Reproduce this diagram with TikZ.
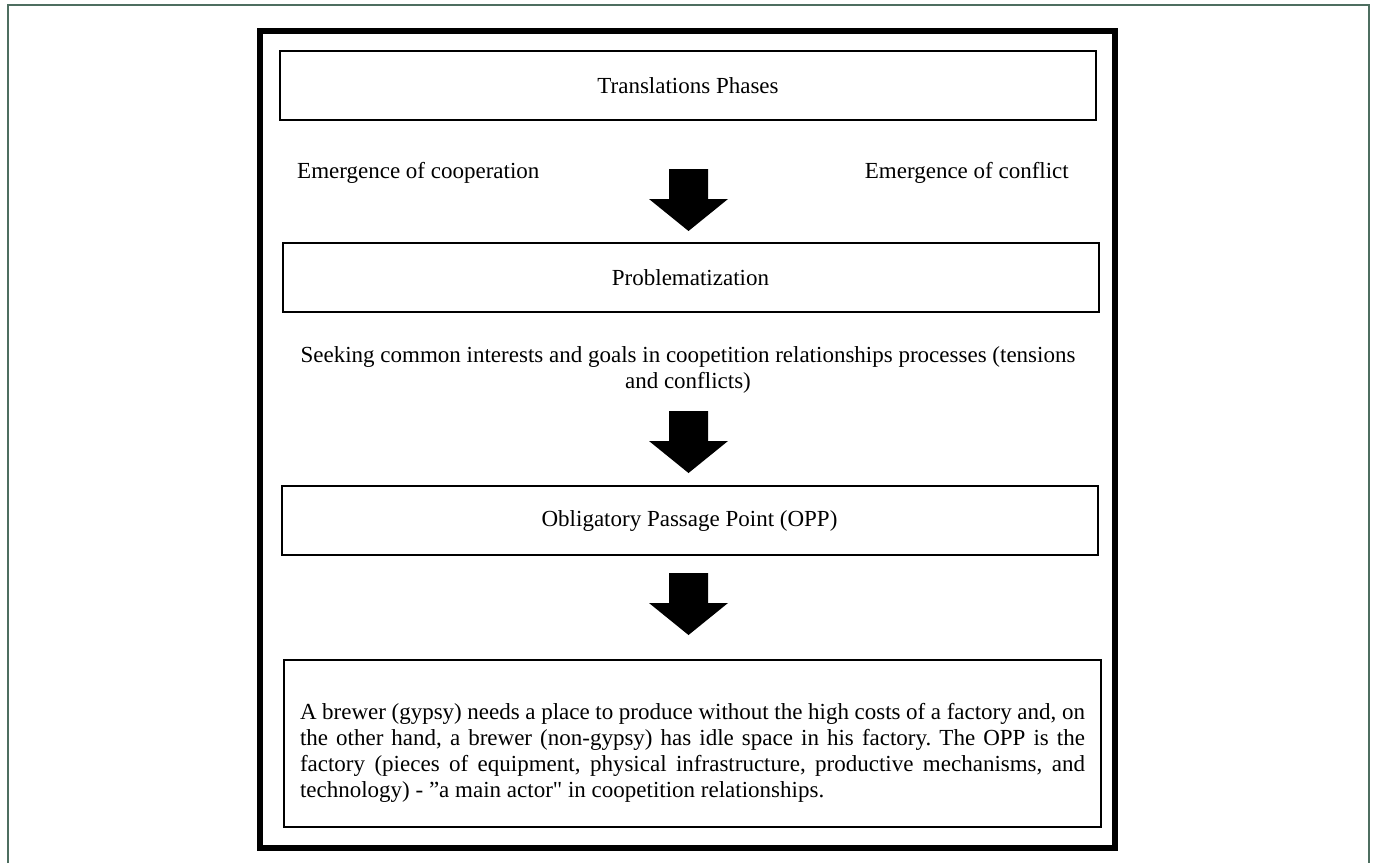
\documentclass[tikz,border=0pt]{standalone}
\usepackage{fontspec}
\setmainfont{Liberation Serif}[Ligatures=TeXOff]
\usetikzlibrary{positioning}
\definecolor{framegreen}{RGB}{78,110,96}
\frenchspacing

\begin{document}
\begin{tikzpicture}[x=1pt, y=-1pt,
                   every node/.style={font=\fontsize{23}{26}\selectfont, inner sep=0pt},
                   phase/.style={draw=black, line width=2pt, minimum width=816pt, minimum height=69pt},
                   label/.style={align=center}]
\useasboundingbox (0,0) rectangle (1375,863);
\draw[framegreen, line width=2pt] (8,863) -- (8,5) -- (1369,5) -- (1369,863);
\draw[line width=6pt] (260,31) rectangle (1115,848);

\node[phase] (phases) at (688,85.5) {Translations Phases};
\node[anchor=west] (coop) at (297,173) {Emergence of cooperation};
\node[anchor=east] (confl) at (1069,173) {Emergence of conflict};
\node[phase] (problem) at (690.5,277.5) {Problematization};
\node[label] (seek) at (688,370) {Seeking common interests and goals in coopetition relationships processes (tensions\\and conflicts)};
\node[phase] (opp) at (689.5,520.5) {Obligatory Passage Point (OPP)};
\node[phase, minimum width=817pt, minimum height=167pt] (brewer) at (692.5,743.5) {};
\node[text width=785pt, align=justify, below=44pt of brewer.north] (brewertext)
	{A brewer (gypsy) needs a place to produce without the high costs of a factory and, on\linebreak
	 the other hand, a brewer (non-gypsy) has idle space in his factory. The OPP is the\linebreak
	 factory (pieces of equipment, physical infrastructure, productive mechanisms, and\linebreak
	 technology) - ”a main actor" in coopetition relationships.};

% block arrows
\foreach \t in {231,473,635}
	\fill (669,\t-62) -- (708,\t-62) -- (708,\t-32) -- (728,\t-32) -- (688.5,\t) -- (649,\t-32) -- (669,\t-32) -- cycle;
\end{tikzpicture}
\end{document}
